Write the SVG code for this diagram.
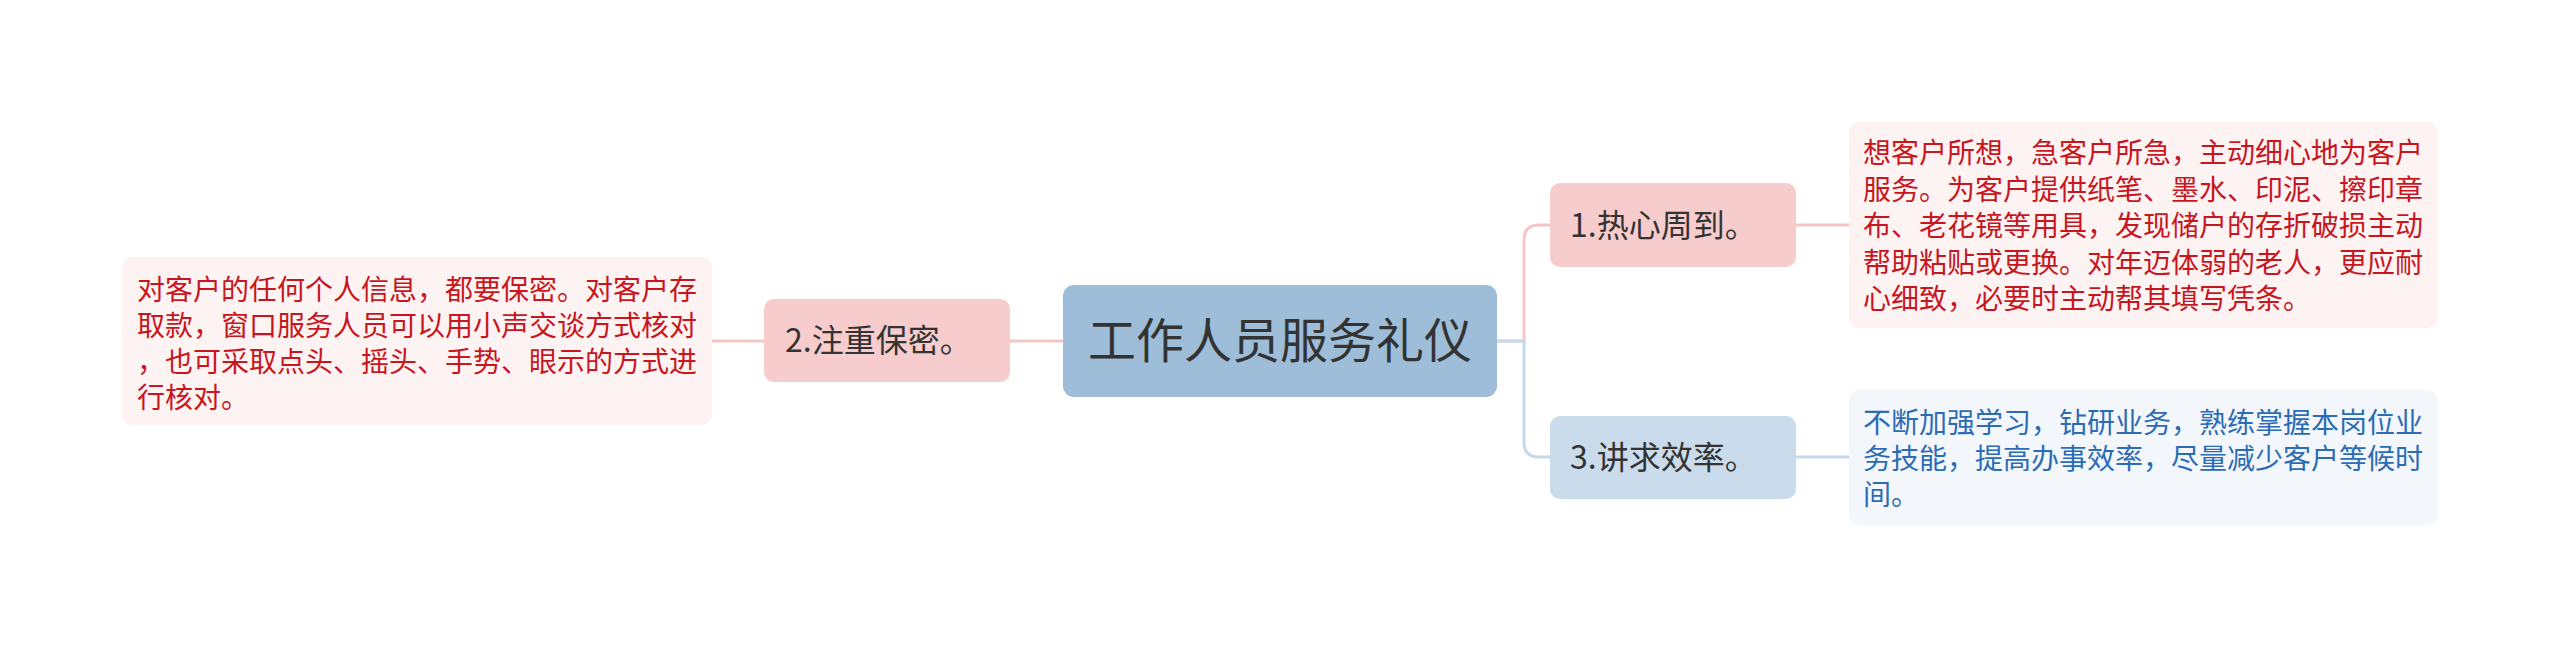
<svg xmlns="http://www.w3.org/2000/svg" width="2560" height="647" viewBox="0 0 2560 647">
<style>
text{font-family:"Noto Sans CJK SC","Noto Sans",sans-serif}
.c{fill:none;stroke-width:3}
.pk{stroke:#f4c5c7}
.bl{stroke:#c6d9ea}
.t{fill:#333333;font-size:32px}
.lr{fill:#c8161e;font-size:28px}
.lb{fill:#2b6cb4;font-size:28px}
</style>
<rect width="2560" height="647" fill="#ffffff"/>
<g id="connectors">
<path class="c pk" d="M1063 341 H1010"/>
<path class="c pk" d="M764 341 H712"/>
<path class="c pk" d="M1497 341 H1524 V240 Q1524 225 1539 225 H1550"/>
<path class="c bl" d="M1497 341 H1524 V442 Q1524 457 1539 457 H1550"/>
<path class="c pk" d="M1795 225 H1849"/>
<path class="c bl" d="M1795 457 H1849"/>
</g>
<g id="center">
<rect x="1063" y="285" width="434" height="112" rx="11" fill="#9ebdd9"/>
<text x="1280" y="358" text-anchor="middle" font-size="48" fill="#333333">工作人员服务礼仪</text>
</g>
<g id="node2">
<rect x="764" y="299" width="246" height="83" rx="10" fill="#f6cccd"/>
<text class="t" x="785" y="352">2.注重保密。</text>
</g>
<g id="leaf2">
<rect x="122" y="257" width="590" height="168" rx="10" fill="#fdf3f3"/>
<text class="lr" x="137" y="300">对客户的任何个人信息，都要保密。对客户存</text>
<text class="lr" x="137" y="336">取款，窗口服务人员可以用小声交谈方式核对</text>
<text class="lr" x="137" y="372">，也可采取点头、摇头、手势、眼示的方式进</text>
<text class="lr" x="137" y="408">行核对。</text>
</g>
<g id="node1">
<rect x="1550" y="183" width="246" height="84" rx="10" fill="#f6cccd"/>
<text class="t" x="1570" y="237">1.热心周到。</text>
</g>
<g id="leaf1">
<rect x="1849" y="122" width="589" height="206" rx="10" fill="#fdf3f3"/>
<text class="lr" x="1863" y="163">想客户所想，急客户所急，主动细心地为客户</text>
<text class="lr" x="1863" y="199.5">服务。为客户提供纸笔、墨水、印泥、擦印章</text>
<text class="lr" x="1863" y="236">布、老花镜等用具，发现储户的存折破损主动</text>
<text class="lr" x="1863" y="272.5">帮助粘贴或更换。对年迈体弱的老人，更应耐</text>
<text class="lr" x="1863" y="309">心细致，必要时主动帮其填写凭条。</text>
</g>
<g id="node3">
<rect x="1550" y="416" width="246" height="83" rx="10" fill="#cadcec"/>
<text class="t" x="1570" y="469">3.讲求效率。</text>
</g>
<g id="leaf3">
<rect x="1849" y="390" width="589" height="135" rx="10" fill="#f3f7fc"/>
<text class="lb" x="1863" y="433">不断加强学习，钻研业务，熟练掌握本岗位业</text>
<text class="lb" x="1863" y="469">务技能，提高办事效率，尽量减少客户等候时</text>
<text class="lb" x="1863" y="505">间。</text>
</g>
</svg>
